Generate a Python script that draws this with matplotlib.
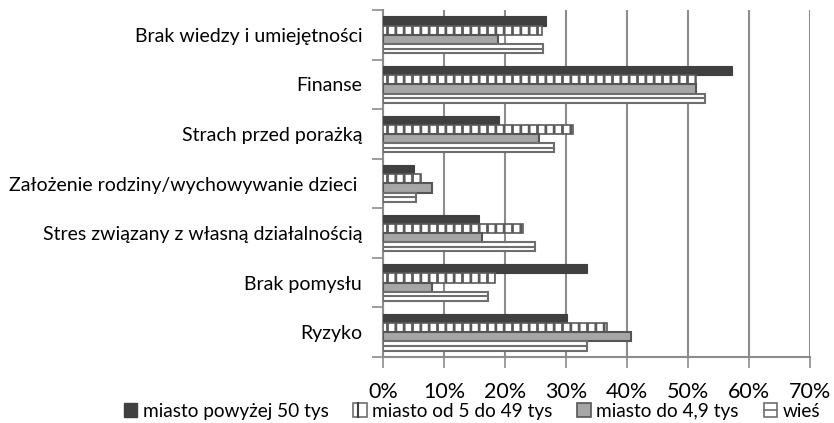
import matplotlib
matplotlib.use("Agg")
import matplotlib.pyplot as plt
import numpy as np
from matplotlib.patches import Rectangle
from matplotlib.lines import Line2D
from matplotlib.legend_handler import HandlerBase

plt.rcParams['font.family'] = ['Lato', 'DejaVu Sans']
plt.rcParams['hatch.linewidth'] = 2.0

categories = ["Brak wiedzy i umiejętności", "Finanse", "Strach przed porażką",
              "Założenie rodziny/wychowywanie dzieci ", "Stres związany z własną działalnością",
              "Brak pomysłu", "Ryzyko"]
series_names = ["miasto powyżej 50 tys", "miasto od 5 do 49 tys", "miasto do 4,9 tys", "wieś"]
miasto_50 = [26.8, 57.2, 19.0, 5.1, 15.7, 33.5, 30.2]
miasto_5_49 = [26.1, 51.3, 31.2, 6.2, 22.9, 18.4, 36.7]
miasto_4_9 = [18.9, 51.3, 25.6, 8.1, 16.2, 8.0, 40.6]
wies = [26.3, 52.8, 28.0, 5.4, 24.9, 17.2, 33.4]
xticks = [0, 10, 20, 30, 40, 50, 60, 70]

fig = plt.figure(figsize=(8.34, 4.23), dpi=100)
ax = fig.add_axes([383/834, 1-357/423, (810-383)/834, (357-10)/423])

n = len(categories)
ypos = np.arange(n)[::-1].astype(float)  # first category on top
h = 0.185
offs = [1.5*h, 0.5*h, -0.5*h, -1.5*h]

ax.barh(ypos + offs[0], miasto_50, height=h, color='#404040', edgecolor='#404040', linewidth=0.8, zorder=3)
ax.barh(ypos + offs[1], miasto_5_49, height=h, color='white', edgecolor='#5a5a5a', hatch='||', linewidth=1.2, zorder=3)
ax.barh(ypos + offs[2], miasto_4_9, height=h, color='#a6a6a6', edgecolor='#555555', linewidth=1.5, zorder=3)
ax.barh(ypos + offs[3], wies, height=h, color='white', edgecolor='#6e6e6e', linewidth=1.5, zorder=3)
ax.hlines(ypos + offs[3], 0, wies, color='#6e6e6e', linewidth=1.5, zorder=4)

ax.set_xlim(0, 70)
ax.set_ylim(-0.5, n - 0.5)
ax.set_xticks(xticks)
ax.set_xticklabels([f"{t}%" for t in xticks], fontsize=15.5, color='black')
ax.tick_params(axis='x', length=8, width=1.2, color='#8c8c8c', pad=10)

ax.set_yticks(np.arange(n + 1) - 0.5)
ax.set_yticklabels([])
ax.tick_params(axis='y', which='major', length=8, width=1.2, color='#8c8c8c')
ax.set_yticks(ypos, minor=True)
ax.set_yticklabels(categories, minor=True, fontsize=14)
ax.tick_params(axis='y', which='minor', length=0, pad=15)

ax.grid(axis='x', color='#8c8c8c', linewidth=1.5, zorder=0)
ax.set_axisbelow(True)
for s in ['top', 'right']:
    ax.spines[s].set_visible(False)
for s in ['left', 'bottom']:
    ax.spines[s].set_color('#8c8c8c')
    ax.spines[s].set_linewidth(1.5)


class WiesHandler(HandlerBase):
    def create_artists(self, legend, orig_handle, xdescent, ydescent, width, height, fontsize, trans):
        r = Rectangle((-xdescent, -ydescent), width, height, facecolor='white',
                      edgecolor='#6e6e6e', linewidth=1.2, transform=trans)
        l = Line2D([-xdescent, -xdescent + width], [-ydescent + height/2]*2,
                   color='#6e6e6e', linewidth=1.2, transform=trans)
        return [r, l]


class StripeHandler(HandlerBase):
    def create_artists(self, legend, orig_handle, xdescent, ydescent, width, height, fontsize, trans):
        r = Rectangle((-xdescent, -ydescent), width, height, facecolor='white',
                      edgecolor='#6e6e6e', linewidth=1.2, transform=trans)
        l = Line2D([-xdescent + width*0.35]*2, [-ydescent, -ydescent + height],
                   color='#404040', linewidth=1.5, transform=trans)
        return [r, l]


h1 = Rectangle((0, 0), 1, 1, facecolor='#404040', edgecolor='#404040')
h2 = Rectangle((0, 0), 1, 1)
h3 = Rectangle((0, 0), 1, 1, facecolor='#a6a6a6', edgecolor='#555555', linewidth=1.2)
h4 = Rectangle((0, 0), 1, 1)
fig.legend([h1, h2, h3, h4], series_names, loc='center', bbox_to_anchor=(472/834, 1-411/423),
           ncol=4, frameon=False, fontsize=13.7, handlelength=0.7, handleheight=0.7,
           handletextpad=0.3, columnspacing=1.3, borderpad=0,
           handler_map={h2: StripeHandler(), h4: WiesHandler()})

fig.savefig("out.png", dpi=100)
